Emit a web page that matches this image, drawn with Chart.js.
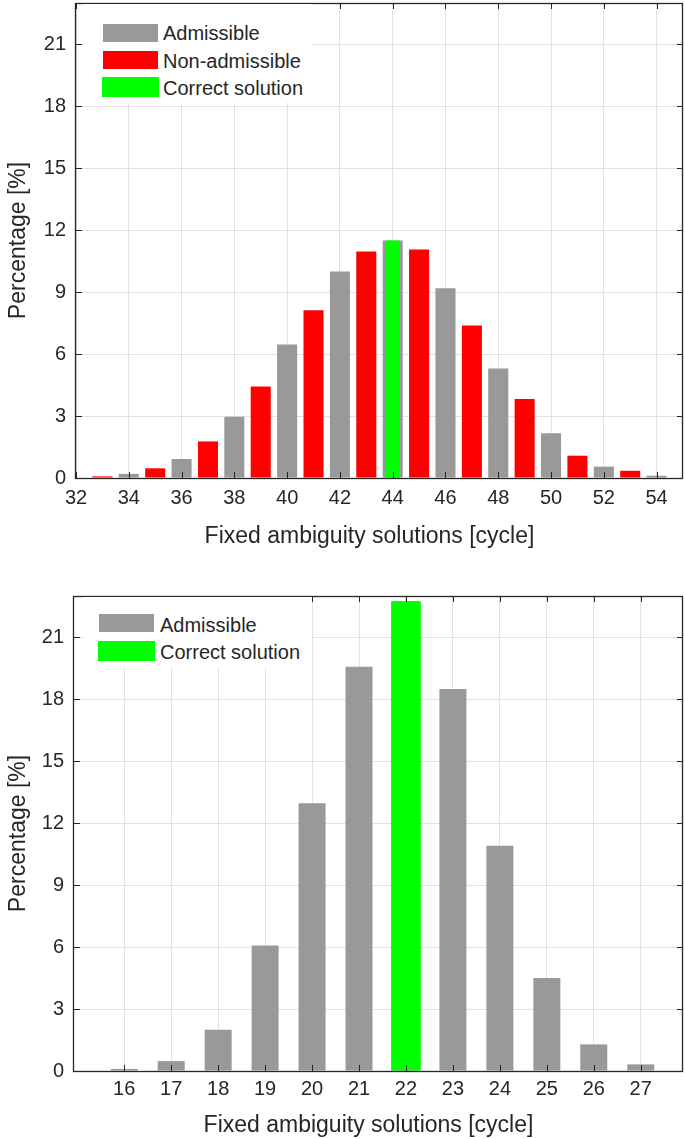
<!DOCTYPE html>
<html><head><meta charset="utf-8">
<script src="https://cdn.jsdelivr.net/npm/chart.js@4.4.1/dist/chart.umd.min.js"></script>
<style>
body{margin:0;background:#fff;width:685px;height:1139px;position:relative;overflow:hidden;font-family:'Liberation Sans',Arial,sans-serif;color:#262626}
canvas{position:absolute;left:0}
.lg{position:absolute;background:#fff}
.sw{position:absolute}
.lt{position:absolute;font-size:20px;line-height:20px;white-space:nowrap;color:#262626}
</style></head><body>
<canvas id="c1" width="685" height="560" style="top:0"></canvas>
<canvas id="c2" width="685" height="579" style="top:560px"></canvas>
<script>
// ---------- data ----------
const topAdmissibleX = [34, 36, 38, 40, 42, 44, 46, 48, 50, 52, 54];
const topAdmissibleY = [0.2, 0.92, 2.96, 6.46, 10.0, 11.5, 9.19, 5.3, 2.17, 0.55, 0.11];
const topNonAdmissibleX = [33, 35, 37, 39, 41, 43, 45, 47, 49, 51, 53];
const topNonAdmissibleY = [0.08, 0.47, 1.77, 4.43, 8.12, 10.97, 11.06, 7.39, 3.82, 1.08, 0.35];
const topCorrectX = [44];
const topCorrectY = [11.5];
const topXTicks = [32, 34, 36, 38, 40, 42, 44, 46, 48, 50, 52, 54];

const botAdmissibleX = [16, 17, 18, 19, 20, 21, 22, 23, 24, 25, 26, 27];
const botAdmissibleY = [0.1, 0.48, 2.0, 6.08, 12.97, 19.58, 22.74, 18.5, 10.91, 4.5, 1.29, 0.32];
const botCorrectX = [22];
const botCorrectY = [22.74];
const botXTicks = [16, 17, 18, 19, 20, 21, 22, 23, 24, 25, 26, 27];

const yTicks = [0, 3, 6, 9, 12, 15, 18, 21];
const xTitle = 'Fixed ambiguity solutions [cycle]';
const yTitle = 'Percentage [%]';

const GRAY = '#999999', RED = '#ff0000', GREEN = '#00ff00', INK = '#262626';
const FONT = "'Liberation Sans', Arial, sans-serif";

Chart.defaults.font.family = FONT;
Chart.defaults.color = INK;

const pts = (xs, ys) => xs.map((x, i) => ({x, y: ys[i]}));

const frame = {
  id: 'frame',
  afterDatasetsDraw(chart, args, o) {
    const ctx = chart.ctx, {left, right, top, bottom} = chart.chartArea;
    const xs = chart.scales.x, ys = chart.scales.y;
    ctx.save();
    ctx.strokeStyle = INK; ctx.lineWidth = 1;
    ctx.beginPath();
    xs.ticks.forEach(t => {
      const p = Math.round(xs.getPixelForValue(t.value)) + 0.5;
      ctx.moveTo(p, bottom); ctx.lineTo(p, bottom - 6);
      ctx.moveTo(p, top); ctx.lineTo(p, top + 6);
    });
    ys.ticks.forEach(t => {
      const p = Math.round(ys.getPixelForValue(t.value)) + 0.5;
      ctx.moveTo(left, p); ctx.lineTo(left + 6, p);
      ctx.moveTo(right, p); ctx.lineTo(right - 6, p);
    });
    ctx.stroke();
    ctx.lineWidth = 1.3;
    ctx.strokeRect(Math.round(left) - 0.5, Math.round(top) + 0.5, Math.round(right - left), Math.round(bottom - top));
    ctx.restore();
  },
  afterDraw(chart, args, o) {
    const ctx = chart.ctx, {left, right, top, bottom} = chart.chartArea;
    ctx.save();
    ctx.fillStyle = INK;
    ctx.font = '23px ' + FONT;
    ctx.textAlign = 'center'; ctx.textBaseline = 'alphabetic';
    ctx.fillText(xTitle, (left + right) / 2 + o.xShift, bottom + o.xBase);
    ctx.translate(o.yBase, (top + bottom) / 2);
    ctx.rotate(-Math.PI / 2);
    ctx.fillText(yTitle, 0, 0);
    ctx.restore();
  }
};

function makeChart(id, datasets, xmin, xmax, xt, pad, yw, xh, xpad, fr) {
  return new Chart(document.getElementById(id), {
    type: 'bar',
    data: {datasets},
    plugins: [frame],
    options: {
      responsive: false, animation: false, devicePixelRatio: 1,
      layout: {padding: pad},
      plugins: {legend: {display: false}, tooltip: {enabled: false}, frame: fr},
      scales: {
        x: {
          type: 'linear', min: xmin, max: xmax, offset: false,
          afterBuildTicks: s => { s.ticks = xt.map(v => ({value: v})); },
          afterFit: s => { s.height = xh; s.paddingLeft = 0; s.paddingRight = 0; },
          grid: {color: '#e2e2e2', lineWidth: 1, drawTicks: false, offset: false},
          border: {display: false},
          ticks: {font: {size: 20}, padding: xpad, maxRotation: 0, autoSkip: false, color: INK}
        },
        y: {
          min: 0, max: 23,
          afterBuildTicks: s => { s.ticks = yTicks.map(v => ({value: v})); },
          afterFit: s => { s.width = yw; s.paddingTop = 0; s.paddingBottom = 0; },
          grid: {color: '#e2e2e2', lineWidth: 1, drawTicks: false},
          border: {display: false},
          ticks: {font: {size: 20}, padding: 10, color: INK}
        }
      }
    }
  });
}

makeChart('c1', [
  {label: 'Correct solution', data: pts(topCorrectX, topCorrectY), backgroundColor: GREEN, grouped: false, categoryPercentage: 1, barPercentage: 0.54},
  {label: 'Non-admissible', data: pts(topNonAdmissibleX, topNonAdmissibleY), backgroundColor: RED, grouped: false, categoryPercentage: 1, barPercentage: 0.76},
  {label: 'Admissible', data: pts(topAdmissibleX, topAdmissibleY), backgroundColor: GRAY, grouped: false, categoryPercentage: 1, barPercentage: 0.76}
], 32, 55, topXTicks, {left: 0, right: 2, top: 3, bottom: 0}, 76, 82, 8, {xShift: -10, xBase: 65, yBase: 25});

makeChart('c2', [
  {label: 'Correct solution', data: pts(botCorrectX, botCorrectY), backgroundColor: GREEN, grouped: false, categoryPercentage: 1, barPercentage: 0.633},
  {label: 'Admissible', data: pts(botAdmissibleX, botAdmissibleY), backgroundColor: GRAY, grouped: false, categoryPercentage: 1, barPercentage: 0.575}
], 14.93, 27.9, botXTicks, {left: 0, right: 2, top: 36, bottom: 0}, 74, 68, 6, {xShift: -10, xBase: 61, yBase: 25});

// ---------- legends (real text) ----------
function legend(box, rows) {
  const b = document.createElement('div');
  b.className = 'lg';
  Object.assign(b.style, {left: box[0] + 'px', top: box[1] + 'px', width: box[2] + 'px', height: box[3] + 'px'});
  document.body.appendChild(b);
  rows.forEach(r => {
    const s = document.createElement('div');
    s.className = 'sw';
    Object.assign(s.style, {left: r.sx + 'px', top: (r.cy - r.sh / 2) + 'px', width: r.sw + 'px', height: r.sh + 'px', background: r.color});
    document.body.appendChild(s);
    const t = document.createElement('div');
    t.className = 'lt';
    t.textContent = r.label;
    Object.assign(t.style, {left: r.tx + 'px', top: (r.ty - 10) + 'px'});
    document.body.appendChild(t);
  });
}
legend([83, 4, 229, 99], [
  {label: 'Admissible', color: GRAY, sx: 103, sw: 55, sh: 18, cy: 32.5, tx: 163, ty: 33},
  {label: 'Non-admissible', color: RED, sx: 103, sw: 55, sh: 18, cy: 60, tx: 163, ty: 60.5},
  {label: 'Correct solution', color: GREEN, sx: 102, sw: 57, sh: 20, cy: 87.2, tx: 163, ty: 88}
]);
legend([83, 597, 229, 71], [
  {label: 'Admissible', color: GRAY, sx: 99, sw: 55, sh: 18, cy: 623.3, tx: 160, ty: 624.5},
  {label: 'Correct solution', color: GREEN, sx: 98, sw: 57, sh: 20, cy: 650.8, tx: 160, ty: 652}
]);
</script>
</body></html>
